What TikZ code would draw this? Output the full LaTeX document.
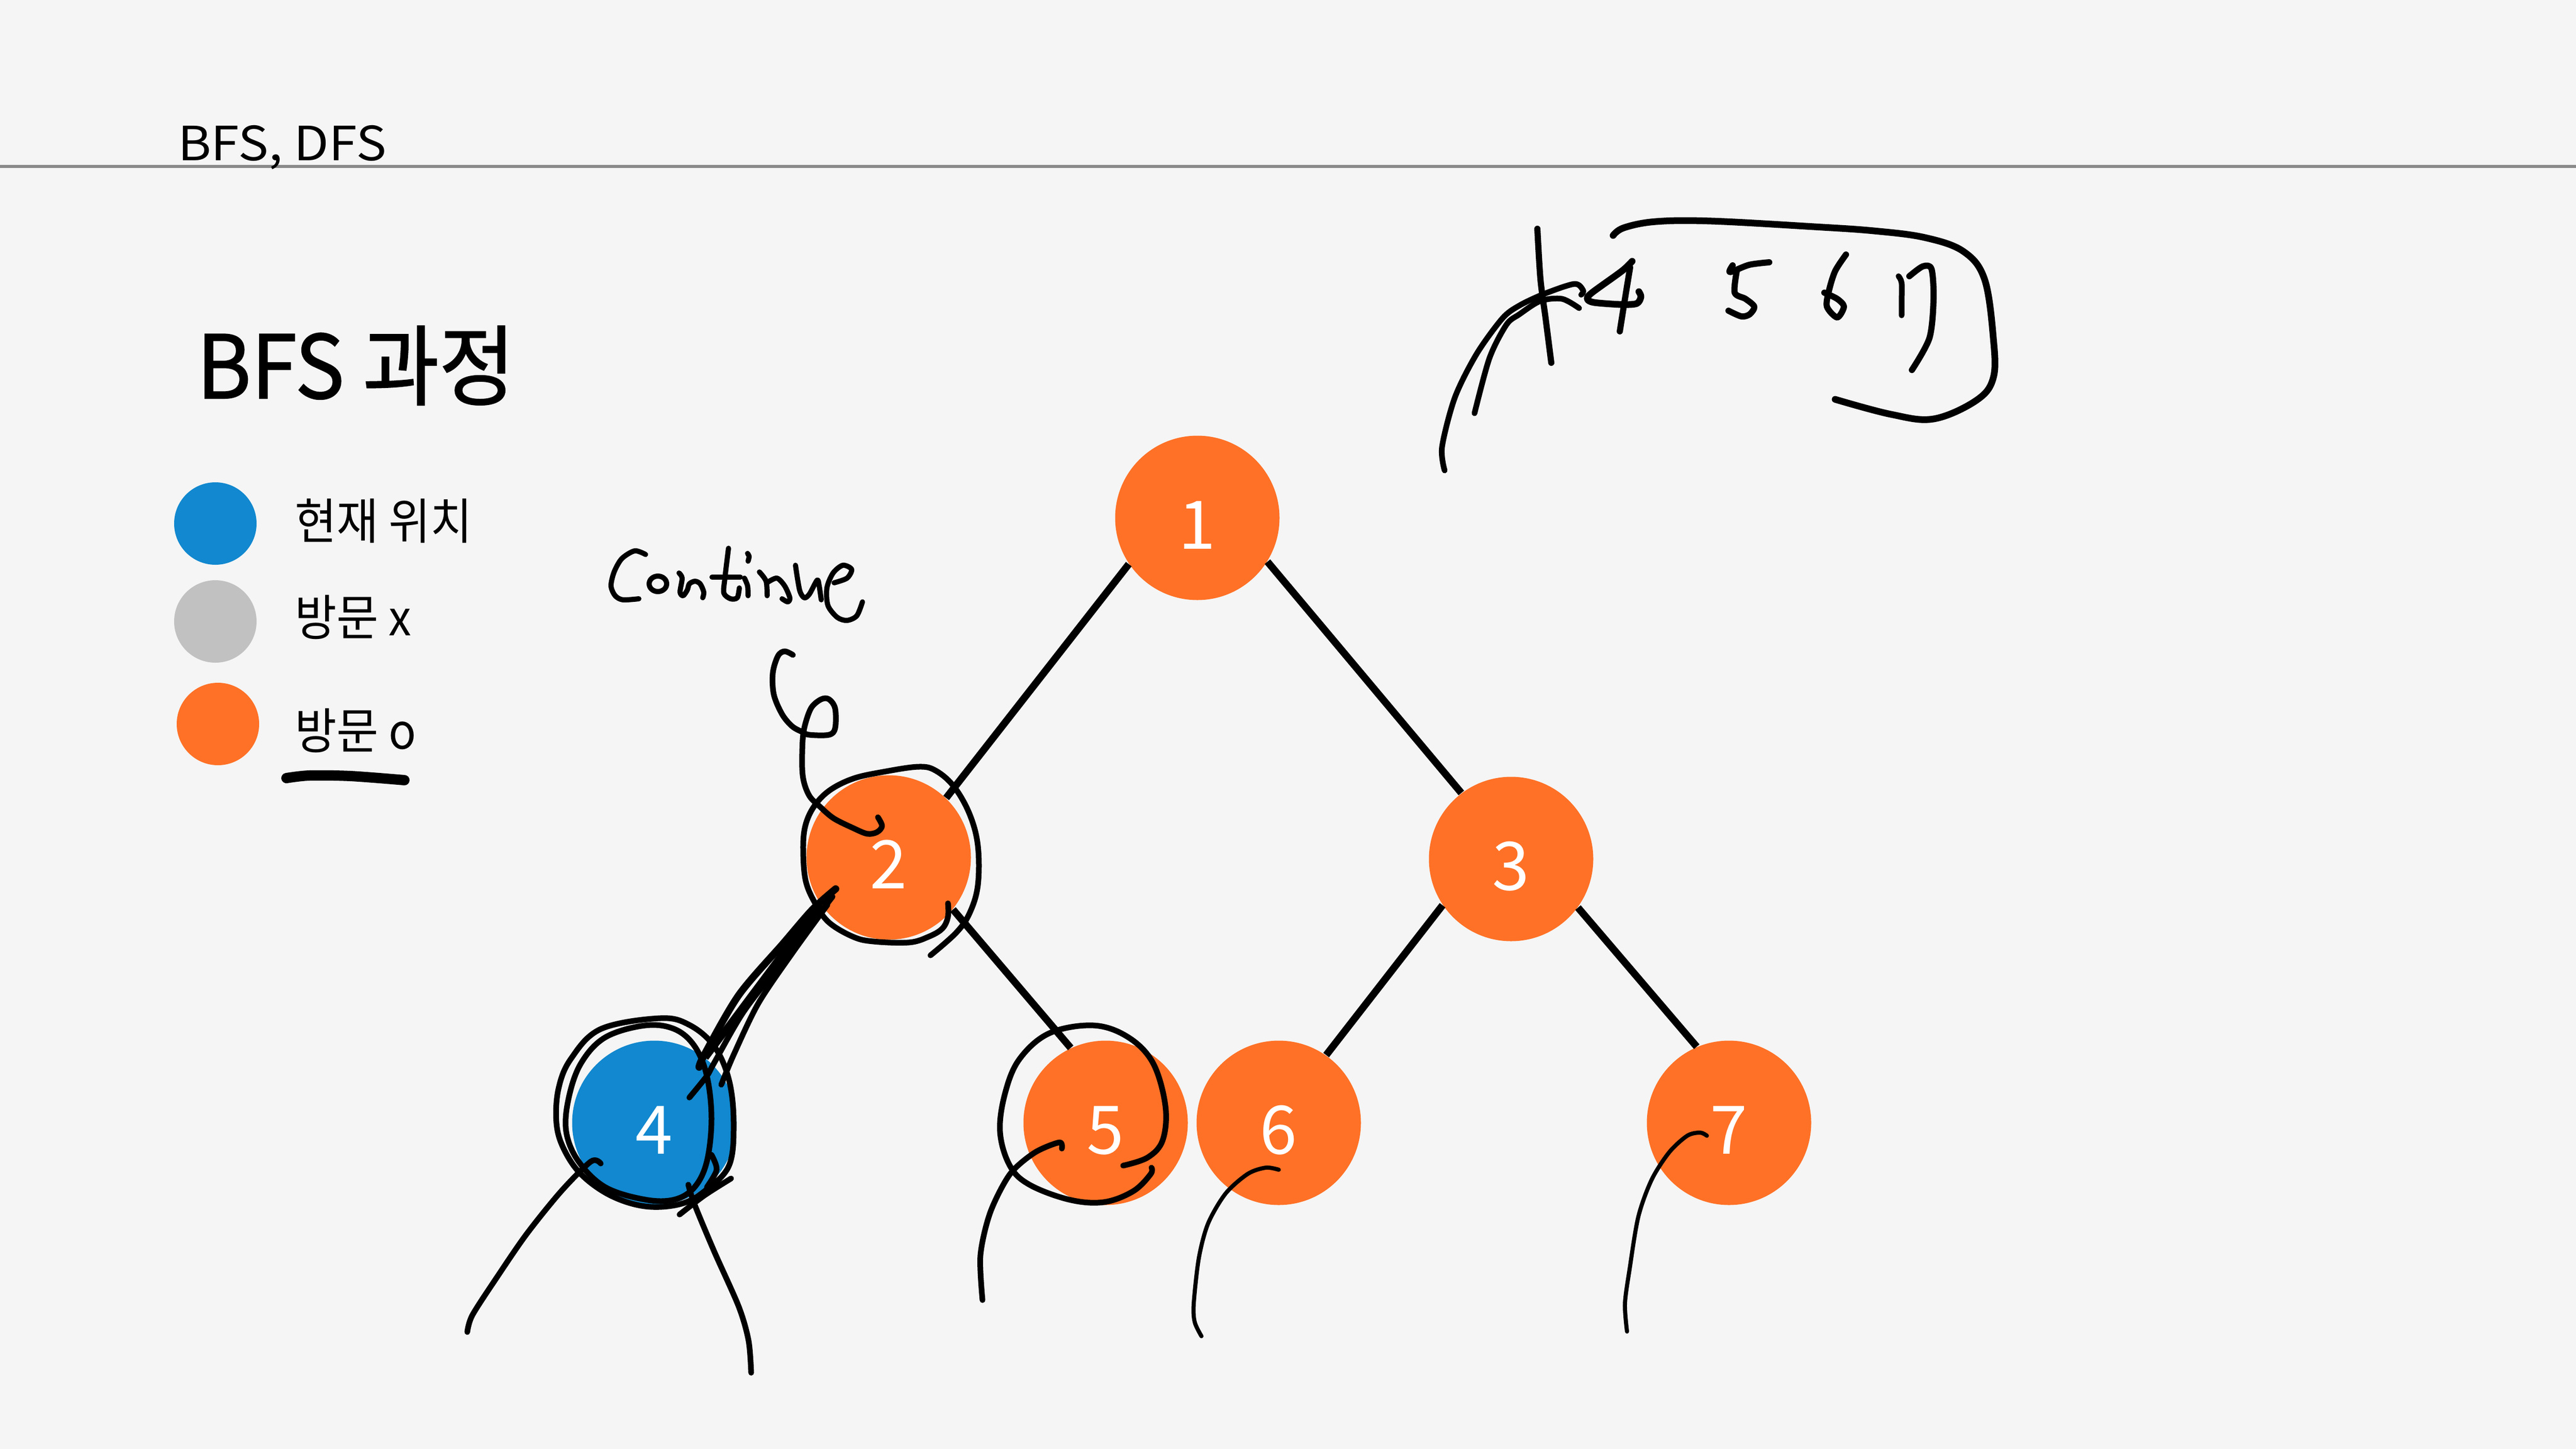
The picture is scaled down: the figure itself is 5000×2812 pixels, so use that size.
\documentclass[tikz,border=0pt]{standalone}
\usepackage{fontspec}
\setmainfont{Noto Sans CJK KR}
\newfontfamily\hdrfont[FakeStretch=1.08]{Noto Sans CJK KR}
\newfontfamily\ttlfont[FakeStretch=0.945, FakeBold=1.2]{Noto Sans CJK KR}
\newfontfamily\legfont[FakeStretch=0.93]{Noto Sans CJK KR}
\definecolor{bg}{HTML}{F5F5F5}
\definecolor{cblue}{HTML}{1188CF}
\definecolor{corange}{HTML}{FF7126}
\definecolor{cgray}{HTML}{C1C1C1}
\definecolor{hdrline}{HTML}{8A8A8A}
\tikzset{
  vnode/.style={circle, fill=corange, minimum size=63.8pt, inner sep=0pt, text=white, text height=24.2pt, text depth=0pt, font=\fontsize{26}{30}\selectfont},
  lcircle/.style={circle, minimum size=32pt, inner sep=0pt},
  edge/.style={line width=2.8pt, black},
  hand/.style={line width=2.2pt, black, line cap=round, line join=round},
  thinhand/.style={line width=1.6pt, black, line cap=round, line join=round},
  legtext/.style={anchor=west, inner sep=0pt, font=\legfont\fontsize{19}{22}\selectfont}
}
\begin{document}
\begin{tikzpicture}[x=0.2pt,y=-0.2pt]
\fill[bg] (0,0) rectangle (5000,2812);
\useasboundingbox (0,0) rectangle (5000,2812);
% header
\draw[line width=1.2pt, hdrline] (0,323) -- (5000,323);
\node[anchor=base west, inner sep=0pt, font=\hdrfont\fontsize{18.3}{20}\selectfont] (hdr) at (344,311) {BFS, DFS};
\node[anchor=base west, inner sep=0pt, font=\ttlfont\fontsize{34}{40}\selectfont] (ttl) at (381,773) {BFS 과정};
% legend
\node[lcircle, fill=cblue] (lb) at (418,1016) {};
\node[lcircle, fill=cgray] (lg) at (418,1206) {};
\node[lcircle, fill=corange] (lo) at (423,1405) {};
\node[legtext] (lt1) at (571,1011) {현재 위치};
\node[legtext] (lt2) at (571,1198) {방문 x};
\node[legtext] (lt3) at (571,1418) {방문 o};
\draw[line width=4pt, line cap=round] plot[smooth] coordinates {(556,1510)(600,1505)(680,1506)(785,1514)};
% tree
\node[vnode] (n1) at (2324,1005) {1};
\node[vnode] (n2) at (1725,1664) {2};
\node[vnode] (n3) at (2933,1667) {3};
\node[vnode, fill=cblue] (n4) at (1270,2179) {4};
\node[vnode] (n5) at (2146,2179) {5};
\node[vnode] (n6) at (2482,2179) {6};
\node[vnode] (n7) at (3356,2179) {7};
\draw[edge] (n1.214) -- (n2.46);
\draw[edge] (n1.328) -- (n3.127);
\draw[edge] (n2.214) -- (n4.52);
\draw[edge] (n2.321) -- (n5.115);
\draw[edge] (n3.214) -- (n6.55);
\draw[edge] (n3.324) -- (n7.113);
% "Continue"
\draw[hand, line width=2pt] plot[smooth] coordinates {(1253,1076)(1232,1069)(1207,1084)(1192,1110)(1186,1137)(1194,1156)(1209,1164)(1240,1162)};
\draw[hand, line width=2pt] (1277,1133) ellipse [x radius=17, y radius=15];
\draw[hand, line width=2pt] plot[smooth] coordinates {(1318,1112)(1324,1122)(1320,1149)(1326,1156)(1334,1145)(1338,1133)(1349,1128)(1359,1133)(1366,1149)(1364,1160)};
\draw[hand, line width=2pt] plot[smooth] coordinates {(1414,1064)(1407,1122)(1405,1151)(1418,1162)(1431,1160)(1435,1141)};
\draw[hand, line width=2pt] (1382,1120) -- (1437,1120);
\draw[hand, line width=2pt] plot[smooth] coordinates {(1445,1122)(1451,1137)(1452,1156)};
\draw[hand, line width=2pt] plot[smooth] coordinates {(1451,1074)(1454,1080)(1452,1089)};
\draw[hand, line width=2pt] plot[smooth] coordinates {(1474,1110)(1487,1128)(1489,1156)};
\draw[hand, line width=2pt] plot[smooth] coordinates {(1490,1130)(1508,1122)(1523,1137)(1533,1160)(1529,1168)(1518,1162)};
\draw[hand, line width=2pt] plot[smooth] coordinates {(1544,1097)(1552,1145)(1561,1160)(1571,1153)(1586,1126)(1590,1137)(1594,1164)};
\draw[hand, line width=2pt] plot[smooth] coordinates {(1619,1131)(1644,1122)(1653,1105)(1636,1097)(1617,1112)(1605,1141)(1607,1175)(1625,1198)(1644,1204)(1663,1195)(1674,1168)};
% loop down to node 2
\draw[hand] plot[smooth, tension=0.55] coordinates {(1539,1271)(1523,1264)(1510,1273)(1500,1306)(1502,1348)(1518,1386)(1537,1409)(1556,1420)(1571,1426)(1609,1426)(1621,1413)(1621,1375)(1609,1357)(1594,1357)(1575,1373)(1563,1405)(1558,1436)(1557,1490)(1561,1520)(1572,1546)(1591,1565)(1618,1588)(1656,1607)(1683,1618)(1702,1615)(1712,1603)(1704,1586)};
% circle around 2
\draw[hand] plot[smooth, tension=0.6] coordinates {(1840,1753)(1840,1779)(1829,1802)(1802,1818)(1764,1829)(1695,1827)(1656,1818)(1610,1791)(1584,1756)(1564,1710)(1559,1649)(1563,1603)(1580,1565)(1610,1534)(1656,1511)(1714,1498)(1783,1488)(1817,1496)(1852,1527)(1882,1580)(1898,1641)(1898,1718)(1882,1772)(1856,1810)(1806,1854)};
% scribbles 2 -> 4
\draw[hand, line width=2.8pt] plot[smooth] coordinates {(1622,1725)(1577,1765)(1520,1831)(1434,1931)(1367,2047)(1357,2071)};
\draw[hand] plot[smooth] coordinates {(1616,1740)(1520,1864)(1443,1964)(1386,2063)(1372,2088)(1338,2130)};
\draw[hand] plot[smooth] coordinates {(1606,1756)(1539,1848)(1472,1947)(1424,2047)(1400,2105)};
% circles around 4
\draw[hand] plot[smooth cycle, tension=0.6] coordinates {(1281,1976)(1166,1997)(1108,2055)(1084,2113)(1080,2179)(1094,2229)(1128,2279)(1185,2320)(1252,2341)(1319,2337)(1367,2312)(1415,2262)(1424,2179)(1415,2096)(1386,2030)(1338,1989)};
\draw[hand] plot[smooth cycle, tension=0.6] coordinates {(1252,1990)(1175,2013)(1128,2063)(1104,2130)(1099,2196)(1123,2254)(1175,2304)(1252,2328)(1309,2328)(1348,2304)(1372,2254)(1381,2171)(1372,2088)(1348,2030)(1309,1997)};
\draw[hand] plot[smooth] coordinates {(1166,2258)(1147,2254)(1089,2312)(1022,2395)(965,2478)(917,2552)(907,2585)};
\draw[hand] plot[smooth] coordinates {(1336,2299)(1348,2337)(1386,2428)(1434,2536)(1453,2602)(1458,2664)};
\draw[hand] plot[smooth] coordinates {(1419,2287)(1367,2320)(1319,2357)};
\draw[hand] plot[smooth] coordinates {(1381,2241)(1391,2270)(1372,2304)};
% circle around 5
\draw[hand] plot[smooth, tension=0.6] coordinates {(2235,2266)(2233,2279)(2199,2312)(2142,2333)(2075,2328)(1998,2299)(1960,2262)(1941,2196)(1951,2121)(1979,2055)(2037,2005)(2123,1990)(2190,2013)(2238,2063)(2262,2146)(2257,2212)(2228,2246)(2180,2262)};
\draw[hand] plot[smooth] coordinates {(2061,2229)(2056,2217)(2008,2237)(1960,2279)(1922,2353)(1903,2436)(1907,2523)};
% tails of 6 and 7
\draw[thinhand] plot[smooth] coordinates {(2482,2270)(2457,2266)(2422,2278)(2379,2316)(2345,2374)(2327,2441)(2317,2530)(2319,2566)(2332,2593)};
\draw[thinhand] plot[smooth] coordinates {(3313,2204)(3300,2198)(3275,2204)(3240,2236)(3206,2289)(3180,2361)(3163,2463)(3154,2530)(3158,2584)};
% top-right queue note
\draw[hand, line width=2.4pt] plot[smooth] coordinates {(2984,444)(2990,542)(3000,618)(3011,704)};
\draw[hand, line width=2.2pt] plot[smooth] coordinates {(2804,913)(2799,867)(2824,771)(2866,687)(2916,618)(2949,593)(2998,570)(3056,551)(3073,564)(3069,572)};
\draw[hand, line width=2.2pt] plot[smooth] coordinates {(2862,802)(2891,695)(2924,630)(2949,610)(2990,584)(3032,580)(3065,598)};
% 4
\draw[hand, line width=2.6pt] plot[smooth] coordinates {(3168,507)(3148,526)(3090,568)(3081,580)(3094,587)(3148,591)(3177,589)(3185,576)(3181,566)};
\draw[hand, line width=2.4pt] plot[smooth] coordinates {(3164,519)(3154,580)(3144,643)};
% 5
\draw[hand, line width=2.4pt] plot[smooth] coordinates {(3363,515)(3358,528)(3395,514)(3434,509)};
\draw[hand, line width=2.4pt] plot[smooth] coordinates {(3371,526)(3367,568)(3388,580)(3405,595)(3396,610)(3380,614)(3355,603)};
% 6
\draw[hand, line width=2.4pt] plot[smooth] coordinates {(3583,494)(3562,526)(3550,564)(3546,595)(3566,616)(3579,595)(3566,580)(3541,568)};
% 7
\draw[hand, line width=2.2pt] plot[smooth] coordinates {(3685,536)(3691,549)(3691,587)(3691,612)};
\draw[hand, line width=2.4pt] plot[smooth] coordinates {(3706,536)(3732,517)(3749,522)(3753,580)(3745,656)(3711,718)};
% bracket
\draw[hand, line width=2.6pt] plot[smooth, tension=0.6] coordinates {(3131,457)(3152,442)(3214,430)(3322,429)(3521,440)(3637,448)(3736,461)(3811,488)(3852,542)(3869,656)(3869,733)(3836,777)(3753,813)(3670,804)(3562,775)};
\end{tikzpicture}
\end{document}
